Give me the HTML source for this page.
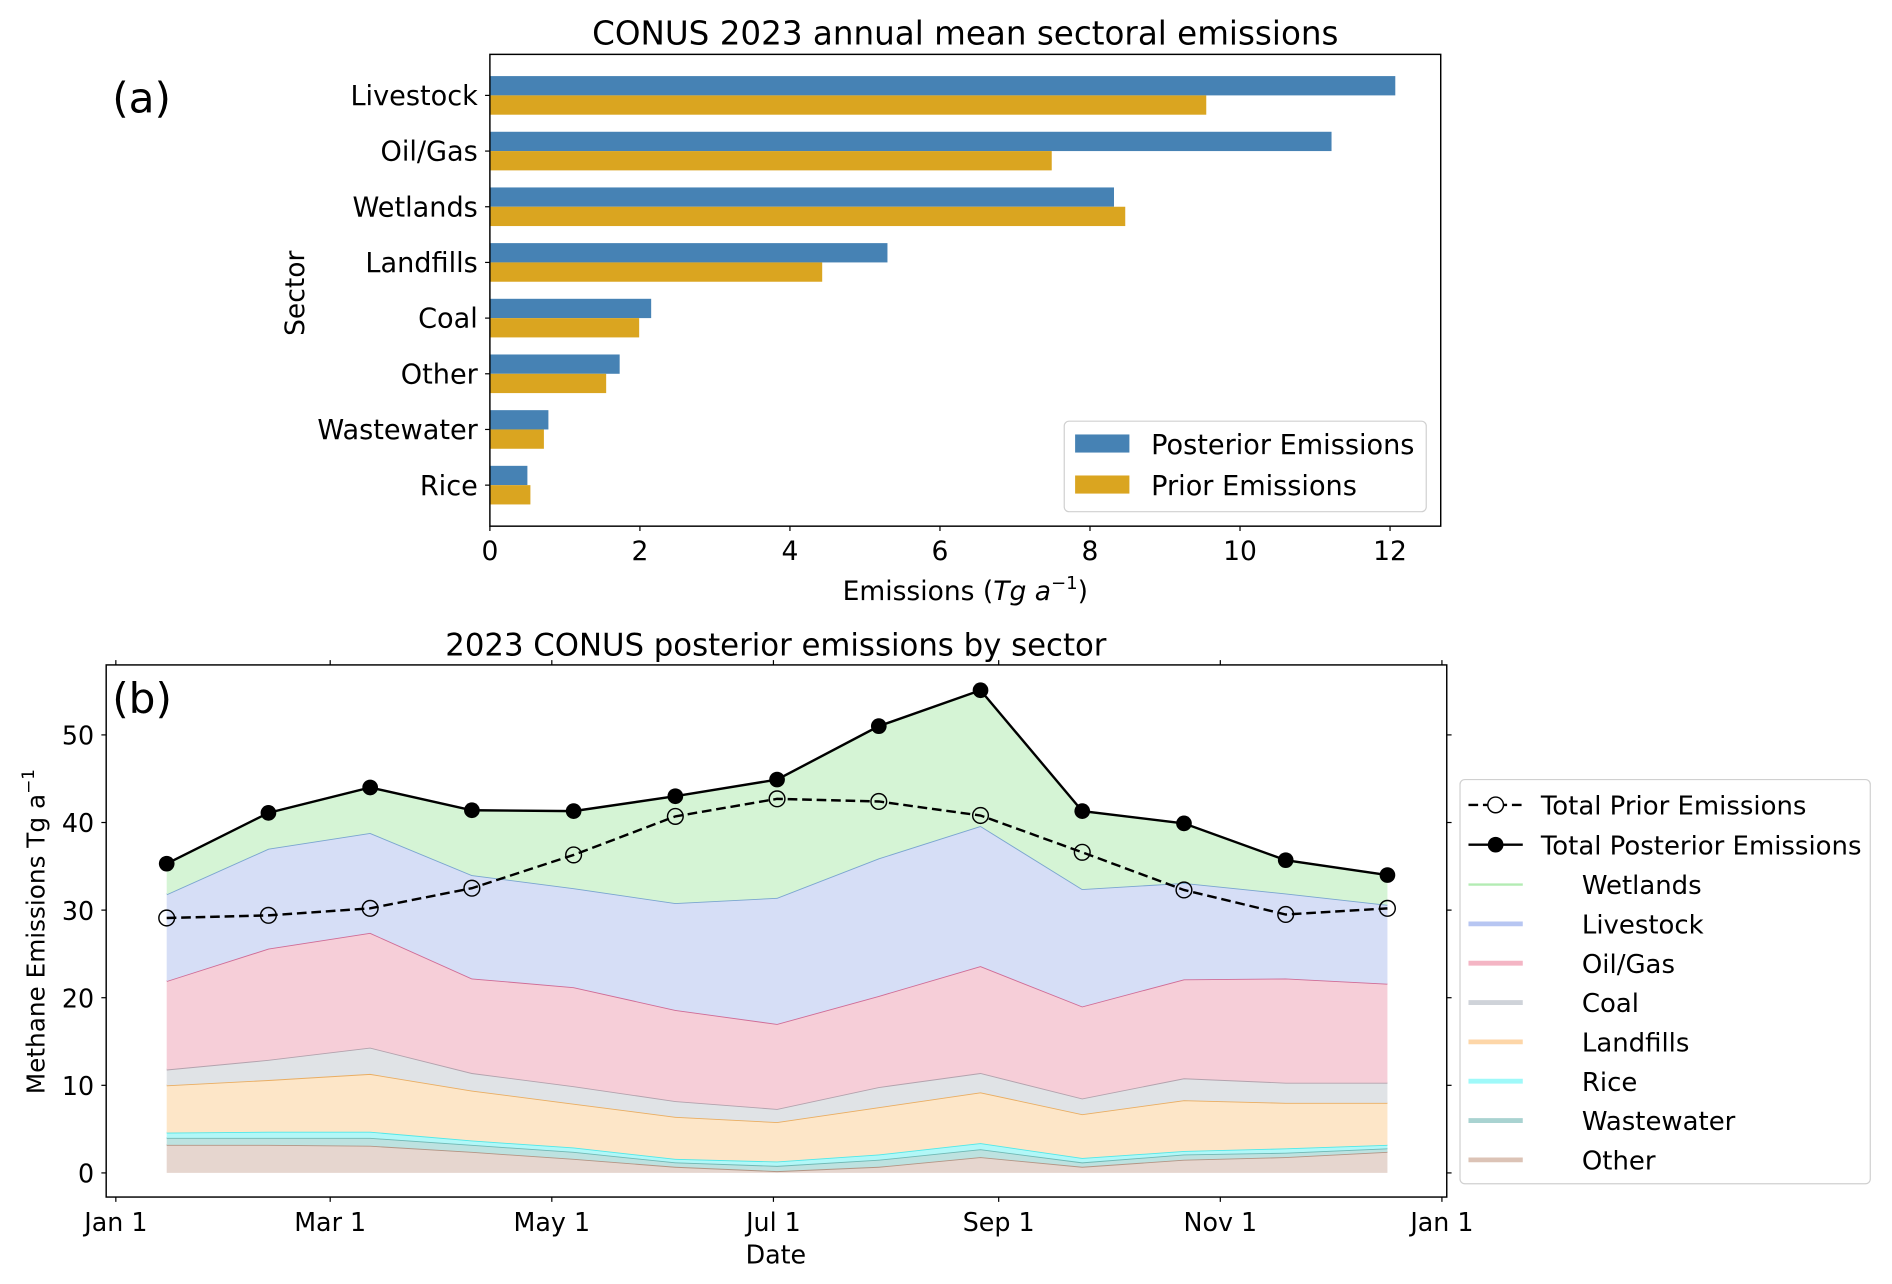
<!DOCTYPE html>
<html><head><meta charset="utf-8"><style>
html,body{margin:0;padding:0;background:#fff;}
svg{display:block;font-family:"DejaVu Sans","Liberation Sans",sans-serif;}
</style></head><body>
<svg id="fig" width="1892" height="1284" viewBox="0 0 1568 1064" xmlns="http://www.w3.org/2000/svg">
<g id="pa"></g>
<g id="pb"></g>
</svg>
<script>
// ---------- Panel (a) data ----------
const sectorsA = ["Livestock","Oil/Gas","Wetlands","Landfills","Coal","Other","Wastewater","Rice"];
const posteriorA = [12.07,11.22,8.32,5.30,2.15,1.73,0.78,0.50];
const priorA = [9.55,7.49,8.47,4.43,1.99,1.55,0.72,0.54];
const xTicksA = [0,2,4,6,8,10,12];

// ---------- Panel (b) data ----------
const dayOfYear = [14,42,70,98,126,154,182,210,238,266,294,322,350];
const sectorNamesB = ["Other","Wastewater","Rice","Landfills","Coal","Oil/Gas","Livestock","Wetlands"];
const otherB = [3.2,3.2,3.1,2.4,1.6,0.7,0.2,0.7,1.8,0.7,1.5,1.8,2.4];
const wastewaterB = [0.8,0.8,0.9,0.8,0.8,0.5,0.6,0.8,0.9,0.5,0.6,0.5,0.4];
const riceB = [0.6,0.7,0.7,0.5,0.5,0.4,0.5,0.6,0.7,0.5,0.4,0.5,0.4];
const landfillsB = [5.4,5.9,6.6,5.7,5.0,4.8,4.5,5.4,5.8,5.0,5.8,5.2,4.8];
const coalB = [1.8,2.3,3.0,2.0,2.0,1.8,1.5,2.3,2.2,1.8,2.5,2.3,2.3];
const oilGasB = [10.1,12.7,13.1,10.8,11.3,10.4,9.7,10.4,12.2,10.5,11.3,11.9,11.3];
const livestockB = [9.9,11.4,11.4,11.8,11.3,12.2,14.4,15.7,16.0,13.4,11.0,9.7,9.0];
const wetlandsB = [3.5,4.1,5.2,7.4,8.8,12.2,13.5,15.1,15.5,8.9,6.8,3.8,3.4];
const totalPosterior = [35.3,41.1,44.0,41.4,41.3,43.0,44.9,51.0,55.1,41.3,39.9,35.7,34.0];
const totalPrior = [29.1,29.4,30.2,32.5,36.3,40.7,42.7,42.4,40.8,36.6,32.3,29.5,30.2];
const yTicksB = [0,10,20,30,40,50];
const xTickDays = [0,59,120,181,243,304,365];
const xTickLabels = ["Jan 1","Mar 1","May 1","Jul 1","Sep 1","Nov 1","Jan 1"];

const NS="http://www.w3.org/2000/svg";
function mk(parent,tag,attrs,text){const e=document.createElementNS(NS,tag);for(const k in attrs)e.setAttribute(k,attrs[k]);if(text!==undefined)e.textContent=text;parent.appendChild(e);return e;}

// ===== Panel a =====
const pa=document.getElementById('pa');
const aL=406,aR=1194,aT=45,aB=436;
const xa=v=>406+v*(1152-406)/12;
const ya=i=>79+i*(402-79)/7;
const bh=16;
let t=mk(pa,'text',{x:800,y:37,'text-anchor':'middle','font-size':27,fill:'#000'},'CONUS 2023 annual mean sectoral emissions');


t=mk(pa,'text',{x:93,y:93,'font-size':35,fill:'#000'},'(a)');


sectorsA.forEach((s,i)=>{
  const cy=ya(i);
  let r=mk(pa,'rect',{x:xa(0),y:cy-bh,width:xa(posteriorA[i])-xa(0),height:bh,fill:'#4682b4'});
  
  
  r=mk(pa,'rect',{x:xa(0),y:cy,width:xa(priorA[i])-xa(0),height:bh,fill:'#daa520'});
  
  
  mk(pa,'line',{x1:aL,x2:aL-4,y1:cy,y2:cy,stroke:'#000','stroke-width':1});
  const l=mk(pa,'text',{x:aL-10,y:cy+8,'text-anchor':'end','font-size':22.5},s);
  
  
});
let fr=mk(pa,'rect',{x:aL,y:aT,width:aR-aL,height:aB-aT,fill:'none',stroke:'#000','stroke-width':1.2});


xTicksA.forEach(v=>{
  mk(pa,'line',{x1:xa(v),x2:xa(v),y1:aB,y2:aB+4,stroke:'#000'});
  const l=mk(pa,'text',{x:xa(v),y:464,'text-anchor':'middle','font-size':22},String(v));
  
  
});
t=mk(pa,'text',{x:800,y:497,'text-anchor':'middle','font-size':22});


t.innerHTML='Emissions (<tspan font-style="italic">Tg a</tspan><tspan dy="-9" font-size="15">−1</tspan><tspan dy="9">)</tspan>';
t=mk(pa,'text',{x:0,y:0,'text-anchor':'middle','font-size':22,transform:'translate(252,243) rotate(-90)'},'Sector');


// legend a
let lg=mk(pa,'g',{});


mk(lg,'rect',{x:882,y:349,width:300,height:75,rx:4,fill:'#fff',stroke:'#d0d0d0'});
mk(lg,'rect',{x:891,y:360,width:45,height:15,fill:'#4682b4'});
mk(lg,'text',{x:954,y:376,'font-size':22.5},'Posterior Emissions');
mk(lg,'rect',{x:891,y:394,width:45,height:15,fill:'#daa520'});
mk(lg,'text',{x:954,y:410,'font-size':22.5},'Prior Emissions');

// ===== Panel b =====
const pb=document.getElementById('pb');
const bL=88,bR=1199,bT=551,bB=992;
const xb=d=>96+d*(1195-96)/365;
const yb=v=>972-v*(972-609)/50;
t=mk(pb,'text',{x:643,y:543,'text-anchor':'middle','font-size':25.5},'2023 CONUS posterior emissions by sector');


const series=[otherB,wastewaterB,riceB,landfillsB,coalB,oilGasB,livestockB,wetlandsB];
const fills=['#e6d6cf','#bde2e0','#b2f7f7','#fde6c8','#e0e3e6','#f6ced8','#d6def6','#d5f4d5'];
const edges=['#b39585','#6fb8b4','#4fe8e8','#e9ad62','#b3a2ad','#cf6c96','#7aa5cf','#9ee29e'];
const legendCols=['#dcc3b6','#a9d3d1','#9ff9f9','#fdd6a8','#cfd3d9','#f4b5c4','#b7c6f2','#b3ecb3'];
let base=dayOfYear.map(()=>0);
series.forEach((s,k)=>{
  const top=base.map((b,i)=>b+s[i]);
  let pts=dayOfYear.map((d,i)=>xb(d)+','+yb(top[i])).join(' ');
  let back=dayOfYear.map((d,i)=>xb(d)+','+yb(base[i])).reverse().join(' ');
  const p=mk(pb,'polygon',{points:pts+' '+back,fill:fills[k],stroke:'none'});
  
  
  mk(pb,'polyline',{points:pts,fill:'none',stroke:edges[k],'stroke-width':1.5});
  base=top;
});
// totals
let pl=mk(pb,'polyline',{points:dayOfYear.map((d,i)=>xb(d)+','+yb(totalPrior[i])).join(' '),fill:'none',stroke:'#000','stroke-width':2,'stroke-dasharray':'8,4'});


dayOfYear.forEach((d,i)=>{
  const c=mk(pb,'circle',{cx:xb(d),cy:yb(totalPrior[i]),r:6.5,fill:'none',stroke:'#000','stroke-width':1.2});
  
  
});
pl=mk(pb,'polyline',{points:dayOfYear.map((d,i)=>xb(d)+','+yb(totalPosterior[i])).join(' '),fill:'none',stroke:'#000','stroke-width':2});


dayOfYear.forEach((d,i)=>{
  const c=mk(pb,'circle',{cx:xb(d),cy:yb(totalPosterior[i]),r:6.5,fill:'#000'});
  
  
});
fr=mk(pb,'rect',{x:bL,y:bT,width:bR-bL,height:bB-bT,fill:'none',stroke:'#000','stroke-width':1.2});


yTicksB.forEach(v=>{
  mk(pb,'line',{x1:bL,x2:bL-4,y1:yb(v),y2:yb(v),stroke:'#000'});
  mk(pb,'line',{x1:bR,x2:bR+4,y1:yb(v),y2:yb(v),stroke:'#000'});
  const l=mk(pb,'text',{x:bL-10,y:yb(v)+8,'text-anchor':'end','font-size':21},String(v));
  
  
});
xTickDays.forEach((d,i)=>{
  mk(pb,'line',{x1:xb(d),x2:xb(d),y1:bB,y2:bB+4,stroke:'#000'});
  mk(pb,'line',{x1:xb(d),x2:xb(d),y1:bT,y2:bT-4,stroke:'#000'});
  const l=mk(pb,'text',{x:xb(d),y:1020,'text-anchor':'middle','font-size':21},xTickLabels[i]);
  
  
});
t=mk(pb,'text',{x:643,y:1047,'text-anchor':'middle','font-size':21},'Date');


t=mk(pb,'text',{x:0,y:0,'text-anchor':'middle','font-size':20.5,transform:'translate(37,772) rotate(-90)'});


t.innerHTML='Methane Emissions Tg a<tspan dy="-9" font-size="14">−1</tspan>';
t=mk(pb,'text',{x:93,y:591,'font-size':35},'(b)');


// legend b
lg=mk(pb,'g',{});


mk(lg,'rect',{x:1210,y:646,width:340,height:335,rx:4,fill:'#fff',stroke:'#d0d0d0'});
mk(lg,'line',{x1:1217,x2:1262,y1:667,y2:667,stroke:'#000','stroke-width':2,'stroke-dasharray':'8,4'});
mk(lg,'circle',{cx:1239.5,cy:667,r:6.5,fill:'#fff',stroke:'#000','stroke-width':1.2});
mk(lg,'text',{x:1277,y:675,'font-size':21.5},'Total Prior Emissions');
mk(lg,'line',{x1:1217,x2:1262,y1:700,y2:700,stroke:'#000','stroke-width':2});
mk(lg,'circle',{cx:1239.5,cy:700,r:6.5,fill:'#000'});
mk(lg,'text',{x:1277,y:708,'font-size':21.5},'Total Posterior Emissions');
const legOrder=[7,6,5,4,3,2,1,0];
legOrder.forEach((k,j)=>{
  const y=733+j*32.6;
  mk(lg,'line',{x1:1217,x2:1262,y1:y,y2:y,stroke:legendCols[k],'stroke-width':k===7?2:4});
  const e=mk(lg,'text',{x:1311,y:y+8,'font-size':21.5},sectorNamesB[k]);
  
  
});
</script>
</body></html>
